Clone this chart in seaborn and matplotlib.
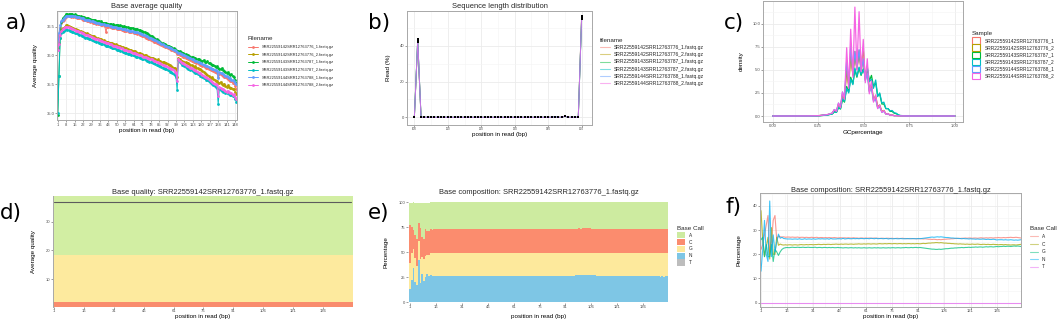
import matplotlib
matplotlib.use("Agg")
import matplotlib.pyplot as plt
from matplotlib.lines import Line2D
from matplotlib.patches import Patch
from matplotlib.ticker import MultipleLocator, FormatStrFormatter
import pandas as pd
import seaborn as sns

sns.set_theme(style="white")
plt.rcParams["font.family"] = ["Liberation Sans", "DejaVu Sans"]

# ---------------------------------------------------------------- data
files = ["SRR22559142SRR12763776_1.fastq.gz", "SRR22559142SRR12763776_2.fastq.gz",
         "SRR22559143SRR12763787_1.fastq.gz", "SRR22559143SRR12763787_2.fastq.gz",
         "SRR22559144SRR12763788_1.fastq.gz", "SRR22559144SRR12763788_2.fastq.gz"]
samples = ["SRR22559142SRR12763776_1", "SRR22559142SRR12763776_2",
           "SRR22559143SRR12763787_1", "SRR22559143SRR12763787_2",
           "SRR22559144SRR12763788_1", "SRR22559144SRR12763788_2"]

# a) base average quality, positions 1..149
qual_142_1 = [36.12, 36.36, 36.48, 36.56, 36.60, 36.62, 36.65, 36.67, 36.68, 36.68,
              36.68, 36.67, 36.68, 36.67, 36.66, 36.66, 36.65, 36.65, 36.64, 36.64,
              36.63, 36.62, 36.62, 36.61, 36.60, 36.60, 36.59, 36.58, 36.58, 36.57,
              36.57, 36.56, 36.55, 36.55, 36.54, 36.54, 36.53, 36.52, 36.52, 36.51,
              36.40, 36.50, 36.50, 36.49, 36.49, 36.48, 36.48, 36.47, 36.47, 36.46,
              36.46, 36.45, 36.45, 36.44, 36.44, 36.43, 36.43, 36.42, 36.42, 36.41,
              36.41, 36.40, 36.40, 36.39, 36.39, 36.38, 36.37, 36.37, 36.36, 36.35,
              36.34, 36.33, 36.32, 36.31, 36.30, 36.29, 36.28, 36.27, 36.26, 36.25,
              36.24, 36.23, 36.22, 36.21, 36.20, 36.19, 36.18, 36.17, 36.16, 36.15,
              36.14, 36.13, 36.12, 36.11, 36.10, 36.09, 36.08, 36.07, 36.06, 36.03,
              36.02, 36.01, 36.00, 35.99, 35.98, 35.97, 35.96, 35.95, 35.94, 35.93,
              35.92, 35.91, 35.90, 35.89, 35.88, 35.87, 35.86, 35.85, 35.84, 35.83,
              35.82, 35.81, 35.80, 35.79, 35.78, 35.77, 35.76, 35.75, 35.74, 35.73,
              35.72, 35.71, 35.70, 35.62, 35.68, 35.67, 35.66, 35.64, 35.63, 35.62,
              35.61, 35.59, 35.58, 35.56, 35.55, 35.53, 35.52, 35.47, 35.42]
qual_142_2 = [36.12, 36.22, 36.38, 36.44, 36.47, 36.48, 36.50, 36.52, 36.52, 36.51,
              36.50, 36.49, 36.48, 36.47, 36.46, 36.45, 36.44, 36.44, 36.43, 36.42,
              36.41, 36.40, 36.39, 36.38, 36.38, 36.37, 36.36, 36.35, 36.34, 36.33,
              36.33, 36.32, 36.31, 36.30, 36.29, 36.28, 36.28, 36.27, 36.26, 36.25,
              36.24, 36.24, 36.23, 36.22, 36.22, 36.21, 36.20, 36.19, 36.19, 36.18,
              36.17, 36.16, 36.16, 36.15, 36.14, 36.13, 36.13, 36.12, 36.11, 36.10,
              36.10, 36.09, 36.08, 36.07, 36.07, 36.06, 36.05, 36.04, 36.04, 36.03,
              36.02, 36.01, 36.00, 36.00, 35.99, 35.98, 35.97, 35.96, 35.96, 35.95,
              35.94, 35.93, 35.92, 35.93, 35.91, 35.90, 35.89, 35.88, 35.89, 35.87,
              35.86, 35.85, 35.84, 35.83, 35.82, 35.80, 35.79, 35.78, 35.76, 35.62,
              35.96, 35.93, 35.91, 35.90, 35.89, 35.88, 35.88, 35.86, 35.87, 35.85,
              35.84, 35.83, 35.82, 35.80, 35.81, 35.79, 35.78, 35.76, 35.77, 35.74,
              35.73, 35.72, 35.70, 35.68, 35.66, 35.65, 35.63, 35.61, 35.62, 35.59,
              35.58, 35.56, 35.55, 35.53, 35.52, 35.54, 35.50, 35.49, 35.51, 35.47,
              35.46, 35.48, 35.45, 35.43, 35.44, 35.41, 35.42, 35.37, 35.33]
qual_143_1 = [34.97, 35.65, 36.30, 36.58, 36.64, 36.66, 36.69, 36.72, 36.72, 36.71,
              36.72, 36.71, 36.72, 36.70, 36.71, 36.70, 36.69, 36.69, 36.68, 36.68,
              36.67, 36.67, 36.66, 36.65, 36.65, 36.64, 36.63, 36.63, 36.62, 36.62,
              36.61, 36.61, 36.60, 36.60, 36.59, 36.58, 36.59, 36.57, 36.57, 36.56,
              36.56, 36.55, 36.55, 36.54, 36.55, 36.53, 36.54, 36.53, 36.52, 36.53,
              36.52, 36.51, 36.52, 36.51, 36.50, 36.51, 36.50, 36.49, 36.49, 36.48,
              36.48, 36.47, 36.48, 36.46, 36.46, 36.45, 36.46, 36.44, 36.44, 36.43,
              36.42, 36.41, 36.41, 36.39, 36.38, 36.37, 36.36, 36.34, 36.33, 36.32,
              36.30, 36.29, 36.28, 36.26, 36.25, 36.24, 36.22, 36.21, 36.20, 36.19,
              36.18, 36.17, 36.16, 36.15, 36.14, 36.13, 36.12, 36.11, 36.10, 36.08,
              36.08, 36.07, 36.06, 36.05, 36.05, 36.03, 36.02, 36.01, 36.00, 35.99,
              35.98, 35.97, 35.97, 35.95, 35.96, 35.94, 35.93, 35.94, 35.92, 35.91,
              35.90, 35.92, 35.89, 35.88, 35.90, 35.86, 35.87, 35.85, 35.84, 35.83,
              35.82, 35.80, 35.81, 35.78, 35.77, 35.76, 35.78, 35.74, 35.73, 35.72,
              35.70, 35.71, 35.68, 35.66, 35.67, 35.64, 35.62, 35.58, 35.52]
qual_143_2 = [35.00, 35.65, 36.30, 36.38, 36.40, 36.42, 36.44, 36.45, 36.44, 36.44,
              36.43, 36.42, 36.41, 36.40, 36.39, 36.38, 36.38, 36.37, 36.36, 36.35,
              36.34, 36.33, 36.32, 36.31, 36.31, 36.30, 36.29, 36.28, 36.27, 36.26,
              36.25, 36.25, 36.24, 36.23, 36.22, 36.21, 36.20, 36.20, 36.19, 36.18,
              36.17, 36.16, 36.16, 36.15, 36.14, 36.13, 36.13, 36.12, 36.11, 36.10,
              36.09, 36.09, 36.08, 36.07, 36.06, 36.06, 36.05, 36.04, 36.03, 36.03,
              36.02, 36.01, 36.00, 36.00, 35.99, 35.98, 35.97, 35.97, 35.96, 35.95,
              35.94, 35.93, 35.93, 35.92, 35.91, 35.90, 35.89, 35.88, 35.88, 35.87,
              35.86, 35.85, 35.84, 35.83, 35.82, 35.81, 35.80, 35.79, 35.78, 35.77,
              35.76, 35.75, 35.74, 35.72, 35.71, 35.70, 35.68, 35.66, 35.63, 35.40,
              35.92, 35.88, 35.86, 35.84, 35.83, 35.81, 35.80, 35.79, 35.77, 35.76,
              35.75, 35.74, 35.73, 35.71, 35.70, 35.69, 35.68, 35.67, 35.65, 35.64,
              35.62, 35.61, 35.60, 35.58, 35.57, 35.55, 35.54, 35.52, 35.50, 35.49,
              35.47, 35.46, 35.44, 35.16, 35.42, 35.40, 35.39, 35.37, 35.38, 35.35,
              35.34, 35.36, 35.33, 35.31, 35.32, 35.29, 35.30, 35.24, 35.20]
qual_144_1 = [36.10, 36.38, 36.52, 36.60, 36.62, 36.64, 36.66, 36.68, 36.69, 36.69,
              36.69, 36.68, 36.69, 36.68, 36.68, 36.67, 36.67, 36.66, 36.66, 36.65,
              36.64, 36.64, 36.63, 36.62, 36.62, 36.61, 36.61, 36.60, 36.59, 36.59,
              36.58, 36.58, 36.57, 36.56, 36.56, 36.55, 36.55, 36.54, 36.54, 36.53,
              36.53, 36.52, 36.52, 36.51, 36.51, 36.50, 36.50, 36.49, 36.49, 36.48,
              36.48, 36.47, 36.47, 36.46, 36.46, 36.45, 36.45, 36.44, 36.44, 36.43,
              36.43, 36.42, 36.42, 36.41, 36.41, 36.40, 36.40, 36.39, 36.38, 36.37,
              36.37, 36.36, 36.35, 36.34, 36.33, 36.32, 36.31, 36.30, 36.29, 36.28,
              36.27, 36.26, 36.25, 36.24, 36.23, 36.21, 36.20, 36.19, 36.18, 36.17,
              36.16, 36.15, 36.14, 36.13, 36.12, 36.11, 36.10, 36.09, 36.08, 36.06,
              36.05, 36.04, 36.03, 36.02, 36.01, 36.00, 35.99, 35.98, 35.97, 35.96,
              35.95, 35.94, 35.93, 35.92, 35.91, 35.90, 35.89, 35.88, 35.87, 35.86,
              35.85, 35.84, 35.83, 35.82, 35.81, 35.80, 35.79, 35.78, 35.77, 35.76,
              35.75, 35.74, 35.73, 35.60, 35.71, 35.70, 35.69, 35.68, 35.66, 35.65,
              35.64, 35.62, 35.61, 35.60, 35.58, 35.57, 35.56, 35.53, 35.50]
qual_144_2 = [36.10, 36.20, 36.36, 36.42, 36.45, 36.47, 36.49, 36.50, 36.50, 36.49,
              36.48, 36.47, 36.46, 36.45, 36.44, 36.43, 36.42, 36.42, 36.41, 36.40,
              36.39, 36.38, 36.37, 36.36, 36.35, 36.35, 36.34, 36.33, 36.32, 36.31,
              36.30, 36.29, 36.29, 36.28, 36.27, 36.26, 36.25, 36.25, 36.24, 36.23,
              36.22, 36.21, 36.21, 36.20, 36.19, 36.18, 36.17, 36.17, 36.16, 36.15,
              36.14, 36.14, 36.13, 36.12, 36.11, 36.10, 36.10, 36.09, 36.08, 36.07,
              36.07, 36.06, 36.05, 36.04, 36.04, 36.03, 36.02, 36.01, 36.01, 36.00,
              35.99, 35.98, 35.97, 35.97, 35.96, 35.95, 35.94, 35.93, 35.93, 35.92,
              35.91, 35.90, 35.89, 35.88, 35.87, 35.86, 35.85, 35.84, 35.83, 35.82,
              35.81, 35.80, 35.79, 35.78, 35.77, 35.76, 35.74, 35.72, 35.70, 35.55,
              35.94, 35.91, 35.89, 35.87, 35.86, 35.85, 35.83, 35.82, 35.81, 35.80,
              35.79, 35.78, 35.77, 35.75, 35.74, 35.73, 35.72, 35.70, 35.69, 35.68,
              35.66, 35.65, 35.63, 35.62, 35.60, 35.59, 35.57, 35.56, 35.54, 35.53,
              35.51, 35.50, 35.48, 35.30, 35.45, 35.44, 35.42, 35.41, 35.40, 35.38,
              35.37, 35.39, 35.36, 35.34, 35.35, 35.32, 35.33, 35.28, 35.25]
qual_series = [qual_142_1, qual_142_2, qual_143_1, qual_143_2, qual_144_1, qual_144_2]

# b) sequence length distribution (read length -> % of reads; lengths not listed are 0)
read_lengths = list(range(100, 151))
len_pct = [
    {101: 42.2, 142: 0.3, 145: 0.5, 150: 57.0},
    {101: 42.6, 142: 0.3, 145: 0.6, 150: 56.5},
    {101: 43.4, 142: 0.2, 145: 0.6, 150: 55.8},
    {101: 43.8, 142: 0.3, 145: 0.6, 150: 55.3},
    {101: 42.9, 142: 0.3, 145: 0.5, 150: 56.3},
    {101: 43.1, 142: 0.2, 145: 0.6, 150: 56.1},
]

# c) GC content density
gc_grid = [0.00, 0.10, 0.20, 0.25, 0.30, 0.316, 0.327, 0.338, 0.350, 0.361, 0.372,
           0.383, 0.394, 0.406, 0.417, 0.428, 0.440, 0.451, 0.462, 0.474, 0.485,
           0.497, 0.508, 0.519, 0.530, 0.542, 0.553, 0.565, 0.576, 0.587, 0.599,
           0.610, 0.621, 0.633, 0.644, 0.655, 0.667, 0.678, 0.690, 0.70, 0.75,
           0.80, 0.90, 1.00]
gc_142_1 = [0, 0, 0.01, 0.03, 0.14, 0.24, 0.30, 0.65, 0.50, 1.30, 0.95, 2.40, 1.90, 5.50,
            3.40, 6.80, 4.50, 6.40, 5.00, 6.60, 4.90, 6.00, 3.90, 4.80, 2.70, 3.20, 1.70,
            2.00, 0.90, 1.10, 0.45, 0.55, 0.22, 0.24, 0.09, 0.10, 0.04, 0.04, 0.02, 0.01,
            0, 0, 0, 0]
gc_142_2 = [0, 0, 0.01, 0.03, 0.14, 0.24, 0.30, 0.60, 0.50, 1.20, 0.90, 2.20, 1.80, 5.00,
            3.20, 6.60, 4.40, 7.00, 5.20, 7.10, 5.20, 7.30, 4.00, 5.20, 2.80, 3.40, 1.80,
            2.20, 1.00, 1.20, 0.50, 0.60, 0.25, 0.25, 0.10, 0.10, 0.04, 0.04, 0.02, 0.01,
            0, 0, 0, 0]
gc_143_1 = [0, 0, 0.01, 0.02, 0.10, 0.18, 0.22, 0.45, 0.40, 0.90, 0.75, 1.80, 1.50, 3.20,
            2.60, 4.20, 3.50, 5.00, 4.20, 5.20, 4.40, 5.10, 4.30, 5.20, 3.80, 4.40, 3.20,
            3.60, 2.20, 2.40, 1.30, 1.30, 0.80, 0.80, 0.50, 0.50, 0.30, 0.25, 0.10, 0.05,
            0.01, 0, 0, 0]
gc_143_2 = [0, 0, 0.01, 0.02, 0.10, 0.18, 0.22, 0.45, 0.40, 0.95, 0.80, 1.90, 1.60, 3.00,
            2.50, 4.00, 3.40, 5.20, 4.30, 5.30, 4.50, 5.00, 4.40, 5.40, 3.70, 4.00, 3.00,
            3.90, 2.10, 2.50, 1.40, 1.50, 0.80, 0.80, 0.55, 0.60, 0.35, 0.30, 0.12, 0.05,
            0.01, 0, 0, 0]
gc_144_1 = [0, 0, 0.01, 0.03, 0.15, 0.25, 0.32, 0.70, 0.55, 1.40, 1.00, 2.60, 2.00, 6.00,
            3.50, 7.60, 4.60, 7.00, 5.10, 7.20, 4.90, 6.20, 3.80, 4.60, 2.60, 3.00, 1.60,
            1.80, 0.85, 1.00, 0.40, 0.50, 0.20, 0.22, 0.08, 0.09, 0.03, 0.04, 0.02, 0.01,
            0, 0, 0, 0]
gc_144_2 = [0, 0, 0.01, 0.03, 0.15, 0.25, 0.30, 0.70, 0.50, 1.40, 0.90, 2.60, 1.80, 7.40,
            3.00, 9.40, 4.20, 11.80, 5.00, 11.30, 4.80, 8.30, 3.60, 6.20, 2.40, 3.80, 1.50,
            2.30, 0.80, 1.20, 0.40, 0.60, 0.20, 0.25, 0.08, 0.10, 0.03, 0.04, 0.01, 0.01,
            0, 0, 0, 0]
gc_series = [gc_142_1, gc_142_2, gc_143_1, gc_143_2, gc_144_1, gc_144_2]

# d) per-base quality of SRR22559142SRR12763776_1 (median, positions 1..150)
d_median_quality = [37, 37, 37, 37, 37, 37, 37, 37, 37, 37, 37, 37, 37, 37, 37,
                    37, 37, 37, 37, 37, 37, 37, 37, 37, 37, 37, 37, 37, 37, 37,
                    37, 37, 37, 37, 37, 37, 37, 37, 37, 37, 37, 37, 37, 37, 37,
                    37, 37, 37, 37, 37, 37, 37, 37, 37, 37, 37, 37, 37, 37, 37,
                    37, 37, 37, 37, 37, 37, 37, 37, 37, 37, 37, 37, 37, 37, 37,
                    37, 37, 37, 37, 37, 37, 37, 37, 37, 37, 37, 37, 37, 37, 37,
                    37, 37, 37, 37, 37, 37, 37, 37, 37, 37, 37, 37, 37, 37, 37,
                    37, 37, 37, 37, 37, 37, 37, 37, 37, 37, 37, 37, 37, 37, 37,
                    37, 37, 37, 37, 37, 37, 37, 37, 37, 37, 37, 37, 37, 37, 37,
                    37, 37, 37, 37, 37, 37, 37, 37, 37, 37, 37, 37, 37, 37, 37]
quality_zones = [(0.0, 2.0), (2.0, 18.4), (18.4, 40.0)]   # red / yellow / green

# e, f) base composition of SRR22559142SRR12763776_1, positions 1..150
bases = ["A", "C", "G", "N", "T"]
base_A = [22, 24, 28, 32, 36, 20, 25, 34, 36, 26,
          27.5, 27.2, 27.1, 27.2, 27.0, 27.1, 27.1, 27.0, 27.1, 27.0,
          27.0, 27.1, 26.9, 27.0, 27.0, 26.9, 27.0, 26.9, 26.9, 27.0,
          26.9, 26.9, 27.0, 26.8, 26.9, 26.9, 26.8, 26.9, 26.8, 26.9,
          26.8, 26.8, 26.9, 26.8, 26.7, 26.8, 26.8, 26.7, 26.8, 26.7,
          26.8, 26.7, 26.7, 26.8, 26.7, 26.7, 26.6, 26.7, 26.7, 26.6,
          26.7, 26.6, 26.7, 26.6, 26.6, 26.7, 26.6, 26.6, 26.5, 26.6,
          26.6, 26.5, 26.6, 26.6, 26.5, 26.6, 26.5, 26.5, 26.6, 26.5,
          26.5, 26.6, 26.5, 26.5, 26.4, 26.5, 26.5, 26.4, 26.5, 26.4,
          26.4, 26.5, 26.4, 26.3, 26.4, 26.3, 26.2, 26.2, 26.1, 26.2,
          26.1, 26.0, 26.1, 26.0, 26.1, 26.2, 26.2, 26.3, 26.3, 26.4,
          26.4, 26.5, 26.5, 26.6, 26.5, 26.6, 26.6, 26.7, 26.6, 26.7,
          26.7, 26.6, 26.7, 26.7, 26.6, 26.7, 26.8, 26.7, 26.7, 26.8,
          26.7, 26.8, 26.8, 26.7, 26.8, 26.8, 26.9, 26.8, 26.8, 26.9,
          26.8, 26.9, 26.9, 27.0, 26.9, 26.9, 27.0, 26.9, 26.8, 26.7]
base_C = [38, 26, 19, 23, 27, 18, 31, 20, 20, 27,
          23.7, 24.2, 23.9, 23.8, 23.9, 23.8, 23.9, 23.9, 23.8, 23.9,
          23.9, 23.8, 23.9, 24.0, 23.9, 23.9, 24.0, 23.9, 24.0, 24.0,
          23.9, 24.0, 24.0, 24.1, 24.0, 24.0, 24.1, 24.0, 24.1, 24.1,
          24.0, 24.1, 24.1, 24.2, 24.1, 24.1, 24.2, 24.1, 24.2, 24.2,
          24.1, 24.2, 24.2, 24.1, 24.2, 24.2, 24.3, 24.2, 24.2, 24.3,
          24.2, 24.3, 24.3, 24.2, 24.3, 24.3, 24.2, 24.3, 24.4, 24.3,
          24.3, 24.4, 24.3, 24.4, 24.4, 24.3, 24.4, 24.4, 24.3, 24.4,
          24.4, 24.3, 24.4, 24.3, 24.4, 24.4, 24.3, 24.4, 24.3, 24.4,
          24.4, 24.3, 24.4, 24.5, 24.4, 24.5, 24.6, 24.6, 24.7, 24.7,
          24.8, 24.8, 24.7, 24.8, 24.7, 24.6, 24.6, 24.5, 24.5, 24.4,
          24.4, 24.3, 24.3, 24.2, 24.3, 24.2, 24.2, 24.1, 24.2, 24.1,
          24.1, 24.2, 24.1, 24.1, 24.2, 24.1, 24.0, 24.1, 24.1, 24.0,
          24.1, 24.0, 24.0, 24.1, 24.0, 24.0, 23.9, 24.0, 24.0, 23.9,
          24.0, 23.9, 23.9, 23.8, 23.9, 23.9, 23.8, 23.9, 24.0, 24.1]
base_G = [26, 27, 19, 24, 19, 19, 24, 17, 22, 21,
          19.5, 21.0, 22.0, 22.5, 22.7, 22.8, 22.7, 22.8, 22.9, 22.8,
          22.8, 22.9, 22.8, 22.8, 22.9, 22.8, 22.8, 22.9, 22.8, 22.8,
          22.8, 22.9, 22.7, 22.8, 22.8, 22.7, 22.8, 22.8, 22.7, 22.8,
          22.7, 22.8, 22.7, 22.7, 22.8, 22.7, 22.7, 22.6, 22.7, 22.7,
          22.6, 22.7, 22.7, 22.6, 22.7, 22.6, 22.7, 22.6, 22.6, 22.7,
          22.6, 22.6, 22.7, 22.6, 22.6, 22.7, 22.6, 22.7, 22.6, 22.6,
          22.7, 22.6, 22.6, 22.7, 22.6, 22.7, 22.7, 22.6, 22.7, 22.7,
          22.6, 22.7, 22.7, 22.8, 22.7, 22.7, 22.8, 22.7, 22.8, 22.8,
          22.7, 22.8, 22.7, 22.6, 22.5, 22.4, 22.3, 22.2, 22.1, 22.1,
          22.0, 22.0, 22.1, 22.0, 22.1, 22.2, 22.3, 22.3, 22.4, 22.5,
          22.5, 22.6, 22.6, 22.7, 22.7, 22.8, 22.7, 22.8, 22.8, 22.9,
          22.8, 22.9, 22.9, 23.0, 22.9, 23.0, 23.0, 22.9, 23.0, 23.1,
          23.0, 23.1, 23.1, 23.0, 23.1, 23.2, 23.1, 23.2, 23.2, 23.3,
          23.2, 23.3, 23.3, 23.2, 23.3, 23.4, 23.3, 23.4, 23.3, 23.2]
base_N = [13, 22, 34, 20, 17, 42, 19, 28, 21, 25,
          28.3, 26.6, 27.0, 26.5, 26.4, 26.3, 26.3, 26.3, 26.2, 26.3,
          26.3, 26.2, 26.4, 26.2, 26.2, 26.4, 26.2, 26.3, 26.3, 26.2,
          26.4, 26.2, 26.3, 26.4, 26.3, 26.4, 26.3, 26.3, 26.4, 26.2,
          26.5, 26.3, 26.3, 26.3, 26.4, 26.4, 26.3, 26.6, 26.3, 26.4,
          26.5, 26.4, 26.4, 26.5, 26.4, 26.5, 26.4, 26.5, 26.5, 26.4,
          26.5, 26.5, 26.4, 26.6, 26.5, 26.4, 26.6, 26.4, 26.5, 26.5,
          26.4, 26.5, 26.5, 26.3, 26.5, 26.4, 26.4, 26.5, 26.4, 26.4,
          26.5, 26.4, 26.4, 26.4, 26.5, 26.4, 26.4, 26.5, 26.4, 26.4,
          26.5, 26.4, 26.5, 26.6, 26.7, 26.8, 26.9, 27.0, 27.1, 27.0,
          27.1, 27.2, 27.1, 27.2, 27.1, 27.0, 26.9, 26.9, 26.8, 26.7,
          26.7, 26.6, 26.6, 26.5, 26.5, 26.4, 26.5, 26.4, 26.4, 26.3,
          26.4, 26.3, 26.3, 26.2, 26.3, 26.2, 26.2, 26.3, 26.2, 26.1,
          26.2, 26.1, 26.1, 26.2, 26.1, 25.9, 26.0, 26.0, 26.0, 25.9,
          26.0, 25.9, 25.9, 26.0, 25.9, 25.8, 25.9, 25.8, 25.9, 26.0]
base_T = [0, 0, 0, 0, 0, 0, 0, 0, 0, 0, 0, 0, 0, 0, 0, 0, 0, 0, 0, 0, 0, 0, 0, 0, 0,
          0, 0, 0, 0, 0, 0, 0, 0, 0, 0, 0, 0, 0, 0, 0, 0, 0, 0, 0, 0, 0, 0, 0, 0, 0,
          0, 0, 0, 0, 0, 0, 0, 0, 0, 0, 0, 0, 0, 0, 0, 0, 0, 0, 0, 0, 0, 0, 0, 0, 0,
          0, 0, 0, 0, 0, 0, 0, 0, 0, 0, 0, 0, 0, 0, 0, 0, 0, 0, 0, 0, 0, 0, 0, 0, 0,
          0, 0, 0, 0, 0, 0, 0, 0, 0, 0, 0, 0, 0, 0, 0, 0, 0, 0, 0, 0, 0, 0, 0, 0, 0,
          0, 0, 0, 0, 0, 0, 0, 0, 0, 0, 0, 0, 0, 0, 0, 0, 0, 0, 0, 0, 0, 0, 0, 0, 0]
base_series = [base_A, base_C, base_G, base_N, base_T]

# ---------------------------------------------------------------- style
gg6 = ["#F8766D", "#B79F00", "#00BA38", "#00BFC4", "#619CFF", "#F564E3"]
gg5 = ["#F8766D", "#A3A500", "#00BF7D", "#00B0F6", "#E76BF3"]
base_fill = {"A": "#CDEBA0", "C": "#FB8C6E", "G": "#FDE99C", "N": "#7EC6E5", "T": "#BDBDBD"}
zone_colors = ["#F98C6E", "#FDEA9E", "#D2EEA3"]

W, H = 1059, 322
fig = plt.figure(figsize=(W / 100, H / 100), dpi=100)

TICK_FS, LAB_FS, TITLE_FS = 3.0, 4.5, 5.4


def px_axes(x0, y0, x1, y1):
    return fig.add_axes([x0 / W, 1 - y1 / H, (x1 - x0) / W, (y1 - y0) / H])


def style(ax, border=True, grid=True):
    ax.set_facecolor("white")
    for s in ax.spines.values():
        s.set_visible(border)
        s.set_color("#A8A8A8")
        s.set_linewidth(0.7)
    ax.tick_params(axis="both", which="major", length=1.2, width=0.4, color="#555555",
                   labelsize=TICK_FS, labelcolor="#4D4D4D", pad=0.6,
                   bottom=True, left=True)
    ax.tick_params(axis="both", which="minor", length=0)
    if grid:
        ax.grid(True, which="major", color="#EBEBEB", linewidth=0.6)
        ax.grid(True, which="minor", color="#F4F4F4", linewidth=0.4)
    else:
        ax.grid(False)
    ax.set_axisbelow(True)


def labels(ax, xl, yl, xc, yc):
    ax.set_xlabel(xl, fontsize=LAB_FS, color="black")
    ax.set_ylabel(yl, fontsize=LAB_FS, color="black")
    ax.xaxis.set_label_coords(0.5, xc)
    ax.yaxis.set_label_coords(yc, 0.5)


def add_legend(ax, handles, labs, title, x, y, fs, hl, hh, ls, htp):
    leg = ax.legend(handles, labs, title=title, loc="upper left",
                    bbox_to_anchor=(x / W, 1 - y / H), bbox_transform=fig.transFigure,
                    frameon=False, fontsize=fs, title_fontsize=4.5,
                    handlelength=hl, handleheight=hh, labelspacing=ls,
                    handletextpad=htp, borderpad=0, borderaxespad=0, alignment="left")
    return leg


# ---------------------------------------------------------------- a)
ax_a = px_axes(57, 11, 237, 120)
style(ax_a)
pos149 = list(range(1, 150))
df_a = pd.DataFrame({
    "position": pos149 * 6,
    "quality": [q for s in qual_series for q in s],
    "file": [f for f in files for _ in pos149],
})
sns.lineplot(data=df_a, x="position", y="quality", hue="file", hue_order=files,
             palette=gg6, marker="o", markersize=2.0, markeredgewidth=0,
             linewidth=0.7, legend=False, ax=ax_a)
ax_a.set_xlim(0.4, 149.6)
ax_a.set_ylim(34.88, 36.77)
ax_a.set_xticks(list(range(1, 149, 7)))
ax_a.set_yticks([35.0, 35.5, 36.0, 36.5])
ax_a.yaxis.set_major_formatter(FormatStrFormatter("%.1f"))
ax_a.yaxis.set_minor_locator(MultipleLocator(0.25))
ax_a.set_title("Base average quality", fontsize=TITLE_FS, pad=2.0)
labels(ax_a, "position in read (bp)", "Average quality", -0.075, -0.105)
add_legend(ax_a, [Line2D([0], [0], color=c, lw=0.7, marker="o", markersize=2.0,
                         markeredgewidth=0) for c in gg6],
           files, "Filename", 248, 36.5, 2.9, 2.5, 0.7, 0.9, 1.0)

# ---------------------------------------------------------------- b)
ax_b = px_axes(407, 11, 592, 125)
style(ax_b)
df_b = pd.DataFrame({
    "length": read_lengths * 6,
    "pct": [d.get(L, 0.0) for d in len_pct for L in read_lengths],
    "file": [f for f in files for _ in read_lengths],
})
sns.lineplot(data=df_b, x="length", y="pct", hue="file", hue_order=files, palette=gg6,
             linewidth=0.7, alpha=0.75, legend=False, ax=ax_b)
sns.scatterplot(data=df_b, x="length", y="pct", color="black", marker="s", s=3.5,
                linewidth=0, legend=False, ax=ax_b, zorder=5)
ax_b.set_xlim(97.8, 153.1)
ax_b.set_ylim(-4.3, 59.6)
ax_b.set_xticks([100, 110, 120, 130, 140, 150])
ax_b.xaxis.set_minor_locator(MultipleLocator(5))
ax_b.set_yticks([0, 20, 40])
ax_b.yaxis.set_minor_locator(MultipleLocator(10))
ax_b.tick_params(axis="x", labelsize=2.2)
ax_b.set_title("Sequence length distribution", fontsize=TITLE_FS, pad=2.0)
labels(ax_b, "position in read (bp)", "Read (%)", -0.06, -0.085)
add_legend(ax_b, [Line2D([0], [0], color=c, lw=0.8, alpha=0.5) for c in gg6],
           files, "filename", 600, 37.5, 3.6, 1.9, 0.7, 0.45, 0.8)

# ---------------------------------------------------------------- c)
ax_c = px_axes(763, 1, 963, 122)
style(ax_c)
df_c = pd.DataFrame({
    "GCpercentage": gc_grid * 6,
    "density": [v for s in gc_series for v in s],
    "Sample": [s for s in samples for _ in gc_grid],
})
sns.lineplot(data=df_c, x="GCpercentage", y="density", hue="Sample", hue_order=samples,
             palette=gg6, linewidth=0.9, legend=False, ax=ax_c)
ax_c.set_xlim(-0.053, 1.044)
ax_c.set_ylim(-0.65, 12.46)
ax_c.set_xticks([0.0, 0.25, 0.5, 0.75, 1.0])
ax_c.xaxis.set_major_formatter(FormatStrFormatter("%.2f"))
ax_c.xaxis.set_minor_locator(MultipleLocator(0.125))
ax_c.set_yticks([0.0, 2.5, 5.0, 7.5, 10.0])
ax_c.yaxis.set_major_formatter(FormatStrFormatter("%.1f"))
ax_c.yaxis.set_minor_locator(MultipleLocator(1.25))
labels(ax_c, "GCpercentage", "density", -0.065, -0.095)
add_legend(ax_c, [Patch(facecolor="white", edgecolor=c, linewidth=0.8) for c in gg6],
           samples, "Sample", 972, 31.5, 3.5, 1.6, 1.6, 0.18, 1.0)

# ---------------------------------------------------------------- d)
ax_d = px_axes(53, 196, 353, 307)
style(ax_d, border=False, grid=False)
ax_d.spines["left"].set_visible(True)
for (lo, hi), col in zip(quality_zones, zone_colors):
    ax_d.axhspan(lo, hi, color=col, lw=0, zorder=0)
pos150 = list(range(1, 151))
df_d = pd.DataFrame({"position": pos150, "quality": d_median_quality})
sns.lineplot(data=df_d, x="position", y="quality", color="#5C5C5C", linewidth=0.8, ax=ax_d)
ax_d.set_xlim(0.35, 151.2)
ax_d.set_ylim(0.24, 38.95)
ax_d.set_xticks(list(range(1, 137, 15)))
ax_d.set_yticks([10, 20, 30])
ax_d.set_title("Base quality: SRR22559142SRR12763776_1.fastq.gz", fontsize=TITLE_FS, pad=1.5)
labels(ax_d, "position in read (bp)", "Average quality", -0.06, -0.055)

# ---------------------------------------------------------------- e)
ax_e = px_axes(408, 202, 670, 303)
style(ax_e, border=False, grid=False)
df_e = pd.DataFrame({
    "position": pos150 * 5,
    "Percentage": [v for s in base_series for v in s],
    "base": [b for b in bases for _ in pos150],
})
sns.histplot(data=df_e, x="position", weights="Percentage", hue="base", hue_order=bases,
             palette=base_fill, multiple="stack", discrete=True, shrink=1.0,
             element="bars", linewidth=0, alpha=1, legend=False, ax=ax_e)
ax_e.set_xlim(-0.16, 151.5)
ax_e.set_ylim(-0.7, 100.3)
ax_e.set_xticks(list(range(1, 137, 15)))
ax_e.set_yticks([0, 25, 50, 75, 100])
ax_e.set_title("Base composition: SRR22559142SRR12763776_1.fastq.gz", fontsize=TITLE_FS, pad=6.0)
labels(ax_e, "position in read (bp)", "Percentage", -0.11, -0.075)
add_legend(ax_e, [Patch(facecolor=base_fill[b], edgecolor="none") for b in bases],
           bases, "Base Call", 677, 226.5, 3.4, 1.7, 1.7, 0.1, 0.8)

# ---------------------------------------------------------------- f)
ax_f = px_axes(760, 193, 1021, 307)
style(ax_f)
sns.lineplot(data=df_e, x="position", y="Percentage", hue="base", hue_order=bases,
             palette=gg5, linewidth=0.8, alpha=0.75, legend=False, ax=ax_f)
ax_f.set_xlim(0.43, 149.9)
ax_f.set_ylim(-1.8, 45.3)
ax_f.set_xticks(list(range(1, 137, 15)))
ax_f.xaxis.set_minor_locator(MultipleLocator(7.5))
ax_f.set_yticks([0, 10, 20, 30, 40])
ax_f.yaxis.set_minor_locator(MultipleLocator(5))
ax_f.set_title("Base composition: SRR22559142SRR12763776_1.fastq.gz", fontsize=TITLE_FS, pad=0.5)
labels(ax_f, "position in read (bp)", "Percentage", -0.06, -0.07)
add_legend(ax_f, [Line2D([0], [0], color=c, lw=0.8, alpha=0.5) for c in gg5],
           bases, "Base Call", 1030, 226.5, 3.4, 1.7, 0.7, 0.55, 0.8)

# ---------------------------------------------------------------- panel labels
for txt, x, y in [("a)", 6, 28.5), ("b)", 368, 29.5), ("c)", 724, 29.5),
                  ("d)", 0, 219.5), ("e)", 368, 219.5), ("f)", 726, 213)]:
    fig.text(x / W, 1 - y / H, txt, fontsize=15.5, family="DejaVu Sans",
             ha="left", va="baseline", color="black")

fig.savefig("out.png", dpi=100)
